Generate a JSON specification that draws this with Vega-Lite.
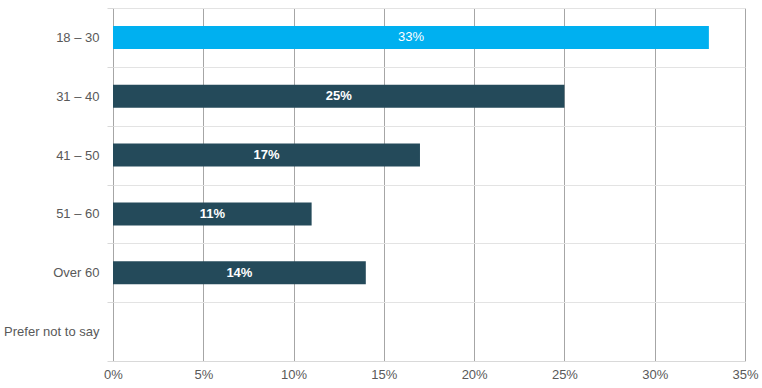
{
  "$schema": "https://vega.github.io/schema/vega-lite/v6.json",
  "width": 632,
  "height": 353,
  "autosize": {"type": "none"},
  "padding": {"left": 113, "top": 8, "right": 17, "bottom": 27},
  "background": "white",
  "config": {
    "view": {"stroke": null},
    "font": "Liberation Sans",
    "axis": {"labelFont": "Liberation Sans", "labelFontSize": 13, "labelColor": "#595959"}
  },
  "data": {
    "values": [
      {"age": "18 – 30", "pct": 33, "highlight": "yes"},
      {"age": "31 – 40", "pct": 25, "highlight": "no"},
      {"age": "41 – 50", "pct": 17, "highlight": "no"},
      {"age": "51 – 60", "pct": 11, "highlight": "no"},
      {"age": "Over 60", "pct": 14, "highlight": "no"},
      {"age": "Prefer not to say", "pct": 0, "highlight": "no"}
    ]
  },
  "encoding": {
    "y": {
      "field": "age",
      "type": "nominal",
      "sort": null,
      "title": null,
      "scale": {"paddingInner": 0, "paddingOuter": 0},
      "axis": {
        "tickBand": "extent",
        "grid": true,
        "gridColor": "#e3e3e3",
        "gridWidth": 1,
        "domain": false,
        "ticks": true,
        "tickColor": "#d9d9d9",
        "tickSize": 6,
        "labelPadding": 8
      }
    },
    "x": {
      "field": "pct",
      "type": "quantitative",
      "title": null,
      "scale": {"domain": [0, 35], "nice": false},
      "axis": {
        "values": [0, 5, 10, 15, 20, 25, 30, 35],
        "labelExpr": "datum.value + '%'",
        "labelFlush": false,
        "labelOverlap": false,
        "labelBound": false,
        "grid": true,
        "gridColor": "#a6a6a6",
        "gridWidth": 1,
        "domain": true,
        "domainColor": "#d9d9d9",
        "ticks": false,
        "labelPadding": 7
      }
    }
  },
  "layer": [
    {
      "mark": {"type": "bar", "size": 23},
      "encoding": {
        "color": {
          "field": "highlight",
          "type": "nominal",
          "scale": {"domain": ["yes", "no"], "range": ["#00B0F0", "#244A5A"]},
          "legend": null
        }
      }
    },
    {
      "transform": [
        {"filter": "datum.pct > 0 && datum.highlight == 'yes'"},
        {"calculate": "datum.pct / 2", "as": "mid"},
        {"calculate": "datum.pct + '%'", "as": "lbl"}
      ],
      "mark": {"type": "text", "color": "white", "fontSize": 13, "font": "Liberation Sans", "align": "center", "baseline": "middle"},
      "encoding": {
        "x": {"field": "mid", "type": "quantitative"},
        "text": {"field": "lbl", "type": "nominal"}
      }
    },
    {
      "transform": [
        {"filter": "datum.pct > 0 && datum.highlight == 'no'"},
        {"calculate": "datum.pct / 2", "as": "mid"},
        {"calculate": "datum.pct + '%'", "as": "lbl"}
      ],
      "mark": {"type": "text", "color": "white", "fontSize": 13, "fontWeight": "bold", "font": "Liberation Sans", "align": "center", "baseline": "middle"},
      "encoding": {
        "x": {"field": "mid", "type": "quantitative"},
        "text": {"field": "lbl", "type": "nominal"}
      }
    }
  ]
}
